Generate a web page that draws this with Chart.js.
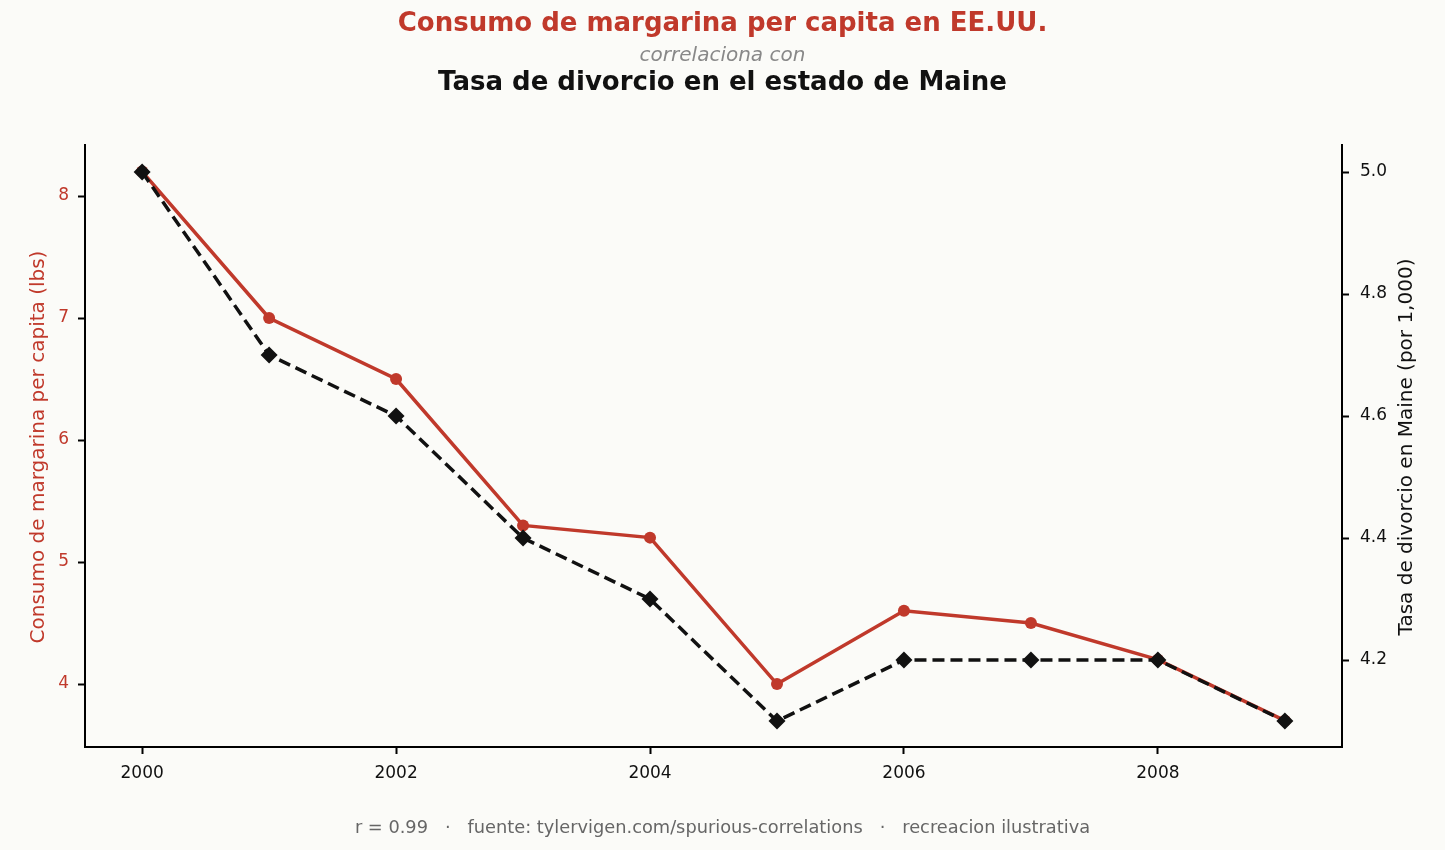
<!DOCTYPE html>
<html lang="es">
<head>
  <meta charset="UTF-8">
  <title>Margarina y divorcio</title>
  <script src="https://cdn.jsdelivr.net/npm/chart.js"></script>
  <style>
    body {
      margin: 0;
      padding: 0;
      background-color: #fbfbf8;
      font-family: 'DejaVu Sans', sans-serif;
    }
    #wrap {
      position: relative;
      width: 1445px;
      height: 850px;
    }
    #wrap canvas {
      position: absolute;
      left: 0;
      top: 0;
    }
    .txt {
      position: absolute;
      left: 0;
      width: 1445px;
      text-align: center;
      white-space: pre;
      line-height: 1;
    }
    #title1 { top: 9px; font-size: 26px; font-weight: bold; color: #c0392b; }
    #title2 { top: 44px; font-size: 20px; font-style: italic; color: #888; }
    #title3 { top: 68px; font-size: 26px; font-weight: bold; color: #111; }
    #footer { top: 818px; font-size: 17.8px; color: #666; }
    .ytitle {
      position: absolute;
      width: 500px;
      margin-left: -250px;
      text-align: center;
      font-size: 20px;
      line-height: 1;
      height: 20px;
      margin-top: -10px;
      white-space: pre;
      transform: rotate(-90deg);
    }
    #ytitleL { left: 37px; top: 447px; color: #c0392b; }
    #ytitleR { left: 1405px; top: 447px; color: #111; }
  </style>
</head>
<body>
  <div id="wrap">
    <canvas id="chart" width="1445" height="850"></canvas>
    <div class="txt" id="title1">Consumo de margarina per capita en EE.UU.</div>
    <div class="txt" id="title2">correlaciona con</div>
    <div class="txt" id="title3">Tasa de divorcio en el estado de Maine</div>
    <div class="ytitle" id="ytitleL">Consumo de margarina per capita (lbs)</div>
    <div class="ytitle" id="ytitleR">Tasa de divorcio en Maine (por 1,000)</div>
    <div class="txt" id="footer">r = 0.99   ·   fuente: tylervigen.com/spurious-correlations   ·   recreacion ilustrativa</div>
  </div>

  <script>
    // data
    const years = [2000, 2001, 2002, 2003, 2004, 2005, 2006, 2007, 2008, 2009];
    const margarine = [8.2, 7.0, 6.5, 5.3, 5.2, 4.0, 4.6, 4.5, 4.2, 3.7];
    const divorce = [5.0, 4.7, 4.6, 4.4, 4.3, 4.1, 4.2, 4.2, 4.2, 4.1];

    const xTicks = [2000, 2002, 2004, 2006, 2008];
    const leftTicks = [4, 5, 6, 7, 8];
    const rightTicks = [4.2, 4.4, 4.6, 4.8, 5.0];

    const RED = '#c0392b';
    const DARK = '#111111';
    const FONT = "'DejaVu Sans', sans-serif";

    const toPoints = (vals) => years.map((y, i) => ({ x: y, y: vals[i] }));
    const setTicks = (list) => (scale) => { scale.ticks = list.map((v) => ({ value: v })); };

    const axisGrid = {
      display: true,
      drawOnChartArea: false,
      drawTicks: true,
      tickLength: 7,
      tickWidth: 2,
      color: '#000'
    };
    const axisBorder = { display: true, color: '#000', width: 2 };

    new Chart(document.getElementById('chart').getContext('2d'), {
      type: 'line',
      data: {
        datasets: [
          {
            label: 'Divorcio',
            data: toPoints(divorce),
            yAxisID: 'yR',
            borderColor: DARK,
            backgroundColor: DARK,
            borderWidth: 3.5,
            borderDash: [12, 6],
            pointStyle: 'rectRot',
            pointRadius: 8.5,
            pointBorderWidth: 0,
            tension: 0,
            order: 0
          },
          {
            label: 'Margarina',
            data: toPoints(margarine),
            yAxisID: 'yL',
            borderColor: RED,
            backgroundColor: RED,
            borderWidth: 3.5,
            pointStyle: 'circle',
            pointRadius: 6,
            pointBorderWidth: 0,
            tension: 0,
            order: 1
          }
        ]
      },
      options: {
        responsive: false,
        animation: false,
        layout: { padding: { top: 145, left: 0, right: 0, bottom: 0 } },
        plugins: {
          legend: { display: false },
          tooltip: { enabled: false }
        },
        scales: {
          x: {
            type: 'linear',
            min: 1999.55,
            max: 2009.45,
            afterBuildTicks: setTicks(xTicks),
            afterFit: (s) => { s.height = 103; },
            grid: axisGrid,
            border: axisBorder,
            ticks: {
              color: '#111',
              font: { family: FONT, size: 17 },
              padding: 9,
              maxRotation: 0,
              callback: (v) => String(v)
            }
          },
          yL: {
            type: 'linear',
            position: 'left',
            min: 3.484,
            max: 8.418,
            afterBuildTicks: setTicks(leftTicks),
            afterFit: (s) => { s.width = 85; },
            grid: axisGrid,
            border: axisBorder,
            ticks: {
              color: RED,
              font: { family: FONT, size: 17 },
              padding: 9,
              callback: (v) => String(v)
            }
          },
          yR: {
            type: 'linear',
            position: 'right',
            min: 4.0574,
            max: 5.0443,
            afterBuildTicks: setTicks(rightTicks),
            afterFit: (s) => { s.width = 103; },
            grid: axisGrid,
            border: axisBorder,
            ticks: {
              color: '#111',
              font: { family: FONT, size: 17 },
              padding: 11,
              callback: (v) => v.toFixed(1)
            }
          }
        }
      }
    });
  </script>
</body>
</html>
